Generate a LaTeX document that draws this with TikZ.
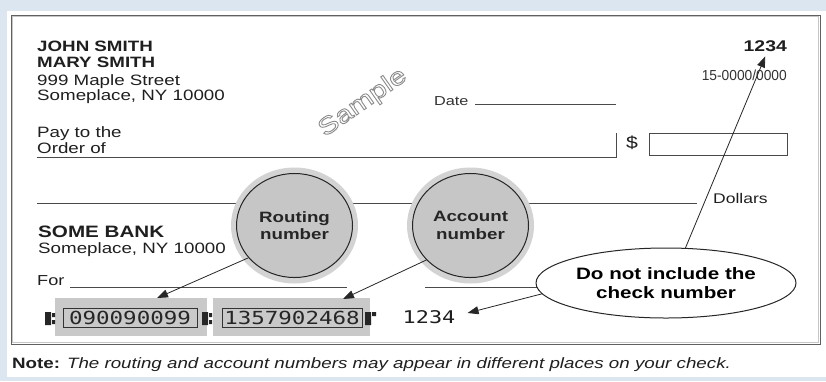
\documentclass[tikz,border=0pt]{standalone}
\usepackage{fontspec}
\setmainfont[FakeStretch=1.25]{Liberation Sans}
\setmonofont[FakeStretch=1.25]{DejaVu Sans Mono}
\newfontfamily\narrowfont[FakeStretch=0.95]{Liberation Sans}
\usetikzlibrary{arrows.meta,shapes.geometric}
\definecolor{pageblue}{HTML}{DCE6F0}
\definecolor{inkgray}{HTML}{4A4A4A}
\definecolor{ringgray}{HTML}{D3D3D3}
\definecolor{discgray}{HTML}{C6C6C6}
\definecolor{micrgray}{HTML}{C9C9C9}
\newcommand{\fsz}[2]{\fontsize{#1}{#2}\selectfont}
\newcommand{\hollow}[1]{\special{pdf:literal direct 1 Tr 0.9 w}#1\special{pdf:literal direct 0 Tr}}

\begin{document}
\begin{tikzpicture}[x=1pt, y=-1pt,
	txt/.style={inner sep=0pt, text=black!88},
	rule/.style={draw=inkgray, line width=0.9pt},
	pointer/.style={draw=black!85, line width=0.8pt, -{Triangle[length=11pt,width=8pt]}},
	disc/.style={ellipse, draw=black!85, line width=1pt, fill=discgray, minimum width=116pt, minimum height=104pt, inner sep=0pt, align=center, font=\fsz{15}{17.5}\bfseries, text=black!85},
	ring/.style={ellipse, fill=ringgray, minimum width=127pt, minimum height=116pt, inner sep=0pt},
	micrbox/.style={fill=micrgray, minimum height=38pt, inner sep=0pt},
	digits/.style={draw=black!80, line width=0.8pt, inner sep=0pt, minimum height=19pt, font=\ttfamily\fsz{18}{18}, text=black!85}]
			%%%%% START %%%%%
			
			\fill[pageblue] (0,0) rectangle (826,381);
			\fill[white] (7,11) rectangle (826,377);
			\useasboundingbox (0,0) rectangle (826,381);
			
			\draw[gray!45, line width=1pt] (12.5,16.5) rectangle (818.5,342.5);
			\draw[gray!75!black, line width=1pt] (11,15) rectangle (820,344);
			
			\node[txt, anchor=base west, font=\fsz{15}{15}\bfseries] (owner1) at (37,51) {JOHN SMITH};
			\node[txt, anchor=base west, font=\fsz{15}{15}\bfseries] (owner2) at (37,67) {MARY SMITH};
			\node[txt, anchor=base west, font=\fsz{15}{15}] (street) at (37,85) {999 Maple Street};
			\node[txt, anchor=base west, font=\fsz{15}{15}] (town) at (37,100) {Someplace, NY 10000};
			
			\node[txt, anchor=base east, font=\fsz{15.5}{15.5}\bfseries] (chknum) at (787,51) {1234};
			\node[txt, anchor=base east, font=\narrowfont\fsz{14.5}{14.5}, text=black!80] (fraction) at (787,80) {15-0000/0000};
			
			\node[txt, anchor=base west, font=\fsz{13}{13}, text=black!80] (datelbl) at (434,105) {Date};
			\draw[rule] (475,104) -- (616,104);
			
			\node[rotate=35, font=\fsz{24}{24}, text=gray!90] (stamp) at (363,103) {\hollow{Sample}};
			
			\node[txt, anchor=base west, font=\fsz{15}{15}] (payto) at (37,137) {Pay to the};
			\node[txt, anchor=base west, font=\fsz{15}{15}] (orderof) at (37,153) {Order of};
			\draw[rule] (37,157) -- (616,157) -- (616,133);
			\node[txt, font=\fsz{17}{17}] (dollarsign) at (632,143) {\$};
			\draw[rule] (649,133) rectangle (787,155);
			
			\draw[rule] (37,203) -- (697,203);
			\node[txt, anchor=base west, font=\fsz{14}{14}] (dollars) at (713,203) {Dollars};
			
			\node[txt, anchor=base west, font=\fsz{16.5}{16.5}\bfseries] (bank) at (38,237) {SOME BANK};
			\node[txt, anchor=base west, font=\fsz{15}{15}] (banktown) at (38,253) {Someplace, NY 10000};
			
			\node[txt, anchor=base west, font=\fsz{14.5}{14.5}] (forlbl) at (37,285) {For};
			\draw[rule] (70,287) -- (347,287);
			\draw[rule] (425,287) -- (780,287);
			
			\node[ring] at (294.5,225.5) {};
			\node[disc] (routing) at (294.5,225.5) {Routing\\number};
			\node[ring] at (470.5,225.5) {};
			\node[disc] (account) at (470.5,225.5) {Account\\number};
			
			\node[micrbox, minimum width=152pt] (routebox) at (131,317) {};
			\node[digits, minimum width=134pt] (routedigits) at (130,317.5) {090090099};
			\node[micrbox, minimum width=157pt] (acctbox) at (291.5,317) {};
			\node[digits, minimum width=140pt] (acctdigits) at (292,317.5) {1357902468};
			
			\fill[black!85] (45,312) rectangle (51,325) (52,313) rectangle (55,317) (52,320) rectangle (55,324);
			\fill[black!85] (202,312) rectangle (208,325) (209,313) rectangle (212,317) (209,320) rectangle (212,324);
			\fill[black!85] (365,312) rectangle (371,325) (372,312) rectangle (376,316);
			
			\node[txt, font=\ttfamily\fsz{17.5}{17.5}, inner xsep=12pt] (micrcheck) at (429,317) {1234};
			
			\node[ellipse, draw=black!85, line width=1pt, fill=white, minimum width=260pt, minimum height=70pt, inner sep=0pt, align=center, font=\fsz{16.5}{19}\bfseries] (bubble) at (666,283) {Do not include the\\check number};
			
			\coordinate (routetip) at (157,298);
			\coordinate (accttip) at (343,299);
			\draw[pointer] (routing.215) -- (routetip);
			\draw[pointer] (account.218) -- (accttip);
			\draw[pointer] (bubble.185) -- ([yshift=4pt]micrcheck.east);
			\draw[pointer] (bubble.61.5) -- ([yshift=-5pt]chknum.south);
			
			\node[txt, anchor=base west, font=\fsz{15}{15}] (footnote) at (12,368) {\textbf{Note:} \textit{The routing and account numbers may appear in different places on your check.}};
			
			%%%%% END %%%%%
\end{tikzpicture}
\end{document}
